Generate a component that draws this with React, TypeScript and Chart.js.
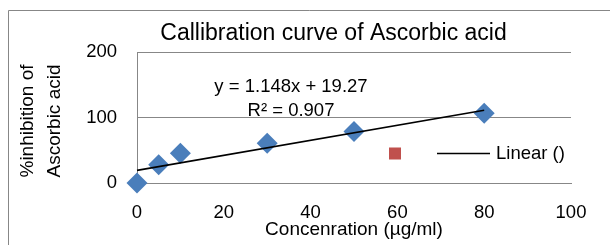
import React, { useEffect, useRef } from "react";
import { Chart, registerables } from "chart.js";

Chart.register(...registerables);

const chartTitle = "Callibration curve of Ascorbic acid";
const xAxisTitle = "Concenration (µg/ml)";
const yAxisTitleLines = ["%inhibition of", "Ascorbic acid"];
const concentrations = [0, 5, 10, 30, 50, 80];
const inhibition = [0, 28, 45.5, 60.8, 78.6, 106.5];
const trendSlope = 1.148;
const trendIntercept = 19.27;
const trendRange = [0, 80];
const equationLines = ["y = 1.148x + 19.27", "R² = 0.907"];
const legendLabel = "Linear ()";
const xTickValues = [0, 20, 40, 60, 80, 100];
const yTickValues = [0, 100, 200];

const FONT = "'Liberation Sans', Arial, sans-serif";
const GRID = "#878787";

const overlayPlugin = {
  id: "overlay",
  afterDraw(chart: any) {
    const ctx = chart.ctx;
    const area = chart.chartArea;
    ctx.save();
    // outer chart border (cropped)
    ctx.strokeStyle = GRID;
    ctx.lineWidth = 1;
    ctx.beginPath();
    ctx.moveTo(8.5, 260);
    ctx.lineTo(8.5, 10.5);
    ctx.lineTo(620, 10.5);
    ctx.stroke();

    ctx.fillStyle = "#000";
    // title
    ctx.font = `23px ${FONT}`;
    ctx.textAlign = "center";
    ctx.textBaseline = "alphabetic";
    ctx.fillText(chartTitle, 333.5, 39.5);

    // x axis title
    ctx.font = `19px ${FONT}`;
    ctx.fillText(xAxisTitle, (area.left + area.right) / 2, 235);

    // y axis title (rotated)
    ctx.save();
    ctx.translate(0, 121);
    ctx.rotate(-Math.PI / 2);
    ctx.fillText(yAxisTitleLines[0], 0, 33);
    ctx.fillText(yAxisTitleLines[1], 0, 60);
    ctx.restore();

    // equation
    ctx.font = `18.5px ${FONT}`;
    ctx.fillText(equationLines[0], 291, 92);
    ctx.fillText(equationLines[1], 291, 116);

    // legend
    ctx.fillStyle = "#C0504D";
    ctx.fillRect(389, 147.5, 12, 12);
    ctx.strokeStyle = "#000";
    ctx.lineWidth = 1.5;
    ctx.beginPath();
    ctx.moveTo(437, 153.5);
    ctx.lineTo(490, 153.5);
    ctx.stroke();
    ctx.fillStyle = "#000";
    ctx.textAlign = "left";
    ctx.textBaseline = "middle";
    ctx.fillText(legendLabel, 496, 154);
    ctx.restore();
  },
};

export default function App() {
  const canvasRef = useRef<HTMLCanvasElement | null>(null);

  useEffect(() => {
    const canvas = canvasRef.current;
    if (!canvas) return;
    const points = concentrations.map((x, i) => ({ x, y: inhibition[i] }));
    const trend = trendRange.map((x) => ({ x, y: trendIntercept + trendSlope * x }));
    const chart = new Chart(canvas, {
      type: "scatter",
      data: {
        datasets: [
          {
            label: "Linear ()",
            data: trend,
            showLine: true,
            borderColor: "#000",
            borderWidth: 1.6,
            pointRadius: 0,
            fill: false,
            clip: false,
          },
          {
            label: "",
            data: points,
            pointStyle: "rectRot",
            pointRadius: 10.5,
            pointHoverRadius: 10.5,
            backgroundColor: "#4A7EBB",
            borderColor: "#4A7EBB",
            borderWidth: 0,
            clip: false,
          },
        ],
      },
      options: {
        responsive: false,
        animation: false,
        devicePixelRatio: 1,
        events: [],
        layout: { padding: { left: 0, top: 52, right: 39, bottom: 0 } },
        plugins: {
          legend: { display: false },
          title: { display: false },
          tooltip: { enabled: false },
        },
        scales: {
          x: {
            type: "linear",
            min: 0,
            max: 100,
            afterFit(scale: any) {
              scale.height = 62;
            },
            afterBuildTicks(scale: any) {
              scale.ticks = xTickValues.map((v) => ({ value: v }));
            },
            grid: { display: false, drawTicks: false },
            border: { display: true, color: GRID, width: 1 },
            ticks: {
              color: "#000",
              padding: 19,
              maxRotation: 0,
              font: { family: FONT, size: 18.5 },
            },
          },
          y: {
            type: "linear",
            min: 0,
            max: 200,
            afterFit(scale: any) {
              scale.width = 137;
            },
            afterBuildTicks(scale: any) {
              scale.ticks = yTickValues.map((v) => ({ value: v }));
            },
            grid: { color: GRID, lineWidth: 1, drawTicks: false },
            border: { display: true, color: GRID, width: 1 },
            ticks: {
              color: "#000",
              padding: 20,
              font: { family: FONT, size: 18.5 },
            },
          },
        },
      },
      plugins: [overlayPlugin],
    });
    return () => chart.destroy();
  }, []);

  return (
    <div style={{ position: "absolute", left: 0, top: 0, width: 610, height: 245, background: "#fff" }}>
      <canvas ref={canvasRef} width={610} height={245} />
    </div>
  );
}
